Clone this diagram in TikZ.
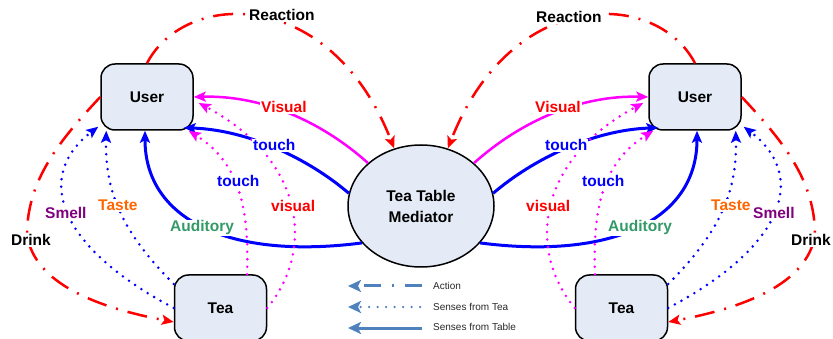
\documentclass[tikz,border=0pt]{standalone}
\usepackage{fontspec}
\setmainfont{Liberation Sans}
\usetikzlibrary{shapes.geometric,arrows.meta}
\definecolor{boxfill}{RGB}{228,235,246}
\definecolor{tastecol}{RGB}{255,102,0}
\definecolor{smellcol}{RGB}{128,0,128}
\definecolor{audcol}{RGB}{51,153,102}
\definecolor{keycol}{RGB}{79,129,189}
\definecolor{keytxt}{RGB}{40,40,40}
\definecolor{pinkline}{RGB}{255,0,255}
\definecolor{redline}{RGB}{255,0,0}
\definecolor{blueline}{RGB}{0,0,255}
\newcommand\lblfont{\bfseries\fontsize{15.5}{21}\selectfont}

\begin{document}
\begin{tikzpicture}[x=1pt,y=-1pt,
  >={Stealth[length=12pt,width=10pt,inset=2.5pt]},
  box/.style={draw=black,line width=1.5pt,fill=boxfill,rounded corners=14pt,
    minimum width=92pt,minimum height=66pt,inner sep=0pt,font=\lblfont},
  hub/.style={ellipse,draw=black,line width=1.5pt,fill=boxfill,
    minimum width=146pt,minimum height=122pt,inner sep=0pt,align=center,font=\lblfont},
  lab/.style={fill=white,inner sep=1pt,anchor=base west,font=\lblfont},
  act/.style={redline,line width=2.5pt,dash pattern=on 20pt off 10pt on 2pt off 10pt,->},
  feel/.style={line width=3pt,->},
  fromtea/.style={line width=2.8pt,line cap=round,dash pattern=on 0pt off 7.5pt,->},
  keyline/.style={keycol,line width=3pt,-{Stealth[length=13pt,width=12pt,inset=3pt]}},
  keytext/.style={anchor=west,inner sep=0pt,text=keytxt,font=\fontsize{10}{12}\selectfont}
]
\useasboundingbox (0,0) rectangle (833,339);

% nodes
\node[box] (userL) at (147,97) {User};
\node[box] (userR) at (695,97) {User};
\node[box] (teaL) at (220.5,308) {Tea};
\node[box] (teaR) at (621.5,308) {Tea};
\node[hub] (med) at (421,206) {Tea Table\\Mediator};

% ---- left side ----
% actions
\draw[act] (userL.north) .. controls (185,-10) and (330,-15) .. (med.115);
\draw[act] (userL.west) .. controls (60,140) and (27,180) .. (27,235)
  .. controls (35,285) and (100,308) .. ([yshift=-14pt]teaL.west);
% senses from the table
\draw[feel,pinkline,line width=2.5pt] (med.141) .. controls (320,120) and (260,95) .. (userL.east);
\draw[feel,blueline] (med.170) .. controls (310,160) and (250,130) .. ([xshift=-10pt,yshift=3pt]userL.south east);
\draw[feel,blueline] (med.212) .. controls (230,260) and (145,220) .. ([xshift=-2pt]userL.south);
% senses from the tea
\draw[fromtea,blueline] (teaL.west) .. controls (55,245) and (35,175) .. ([xshift=-2pt,yshift=4pt]userL.south west);
\draw[fromtea,blueline] ([yshift=24pt]teaL.west) .. controls (120,230) and (105,190) .. ([xshift=6pt]userL.south west);
\draw[fromtea,pinkline] ([xshift=26.5pt]teaL.north) .. controls (250,200) and (235,160) .. ([xshift=-5pt]userL.south east);
\draw[fromtea,pinkline] (teaL.east) .. controls (315,250) and (305,160) .. ([xshift=5pt,yshift=-6pt]userL.east);

% ---- right side ----
\draw[act] (userR.north) .. controls (657,-10) and (512,-15) .. (med.65);
\draw[act] (userR.east) .. controls (782,140) and (815,180) .. (815,235)
  .. controls (807,285) and (742,308) .. ([yshift=-14pt]teaR.east);
\draw[feel,pinkline,line width=2.5pt] (med.39) .. controls (522,120) and (582,95) .. (userR.west);
\draw[feel,blueline] (med.10) .. controls (532,160) and (592,130) .. ([xshift=10pt,yshift=3pt]userR.south west);
\draw[feel,blueline] (med.-32) .. controls (612,260) and (697,220) .. ([xshift=2pt]userR.south);
\draw[fromtea,blueline] (teaR.east) .. controls (787,245) and (807,175) .. ([xshift=2pt,yshift=4pt]userR.south east);
\draw[fromtea,blueline] ([yshift=24pt]teaR.east) .. controls (722,230) and (737,190) .. ([xshift=-6pt]userR.south east);
\draw[fromtea,pinkline] ([xshift=-26.5pt]teaR.north) .. controls (592,200) and (607,160) .. ([xshift=5pt]userR.south west);
\draw[fromtea,pinkline] (teaR.west) .. controls (527,250) and (537,160) .. ([xshift=-5pt,yshift=-6pt]userR.west);

% labels
\node[lab] (lReactL) at (248,21) {Reaction};
\node[lab,text=redline] (lVisL) at (260,113) {Visual};
\node[lab,text=blueline] (lTouchL) at (252,151) {touch};
\node[lab,text=blueline] (lTouch2L) at (216,187) {touch};
\node[lab,text=redline] (lVis2L) at (270,212) {visual};
\node[lab,text=smellcol] (lSmellL) at (44,219) {Smell};
\node[lab,text=tastecol] (lTasteL) at (97,211) {Taste};
\node[lab,text=audcol] (lAudL) at (169,232) {Auditory};
\node[lab] (lDrinkL) at (10,246) {Drink};

\node[lab] (lReactR) at (535,23) {Reaction};
\node[lab,text=redline] (lVisR) at (534,113) {Visual};
\node[lab,text=blueline] (lTouchR) at (544,151) {touch};
\node[lab,text=blueline] (lTouch2R) at (581,187) {touch};
\node[lab,text=redline] (lVis2R) at (525,212) {visual};
\node[lab,text=audcol] (lAudR) at (607,232) {Auditory};
\node[lab,text=tastecol] (lTasteR) at (710,211) {Taste};
\node[lab,text=smellcol] (lSmellR) at (752,219) {Smell};
\node[lab] (lDrinkR) at (790,246) {Drink};

% key
\coordinate (k1a) at (422,286); \coordinate (k1b) at (348,286);
\coordinate (k2a) at (420,307); \coordinate (k2b) at (348,307);
\coordinate (k3a) at (422,328); \coordinate (k3b) at (348,328);
\draw[keyline,dash pattern=on 17pt off 11pt on 2pt off 11pt] (k1a) -- (k1b);
\draw[keyline,line width=2.5pt,line cap=round,dash pattern=on 0pt off 8.5pt] (k2a) -- (k2b);
\draw[keyline] (k3a) -- (k3b);
\node[keytext] (kt1) at (433,286) {Action};
\node[keytext] (kt2) at (433,307) {Senses from Tea};
\node[keytext] (kt3) at (433,327) {Senses from Table};
\end{tikzpicture}
\end{document}
